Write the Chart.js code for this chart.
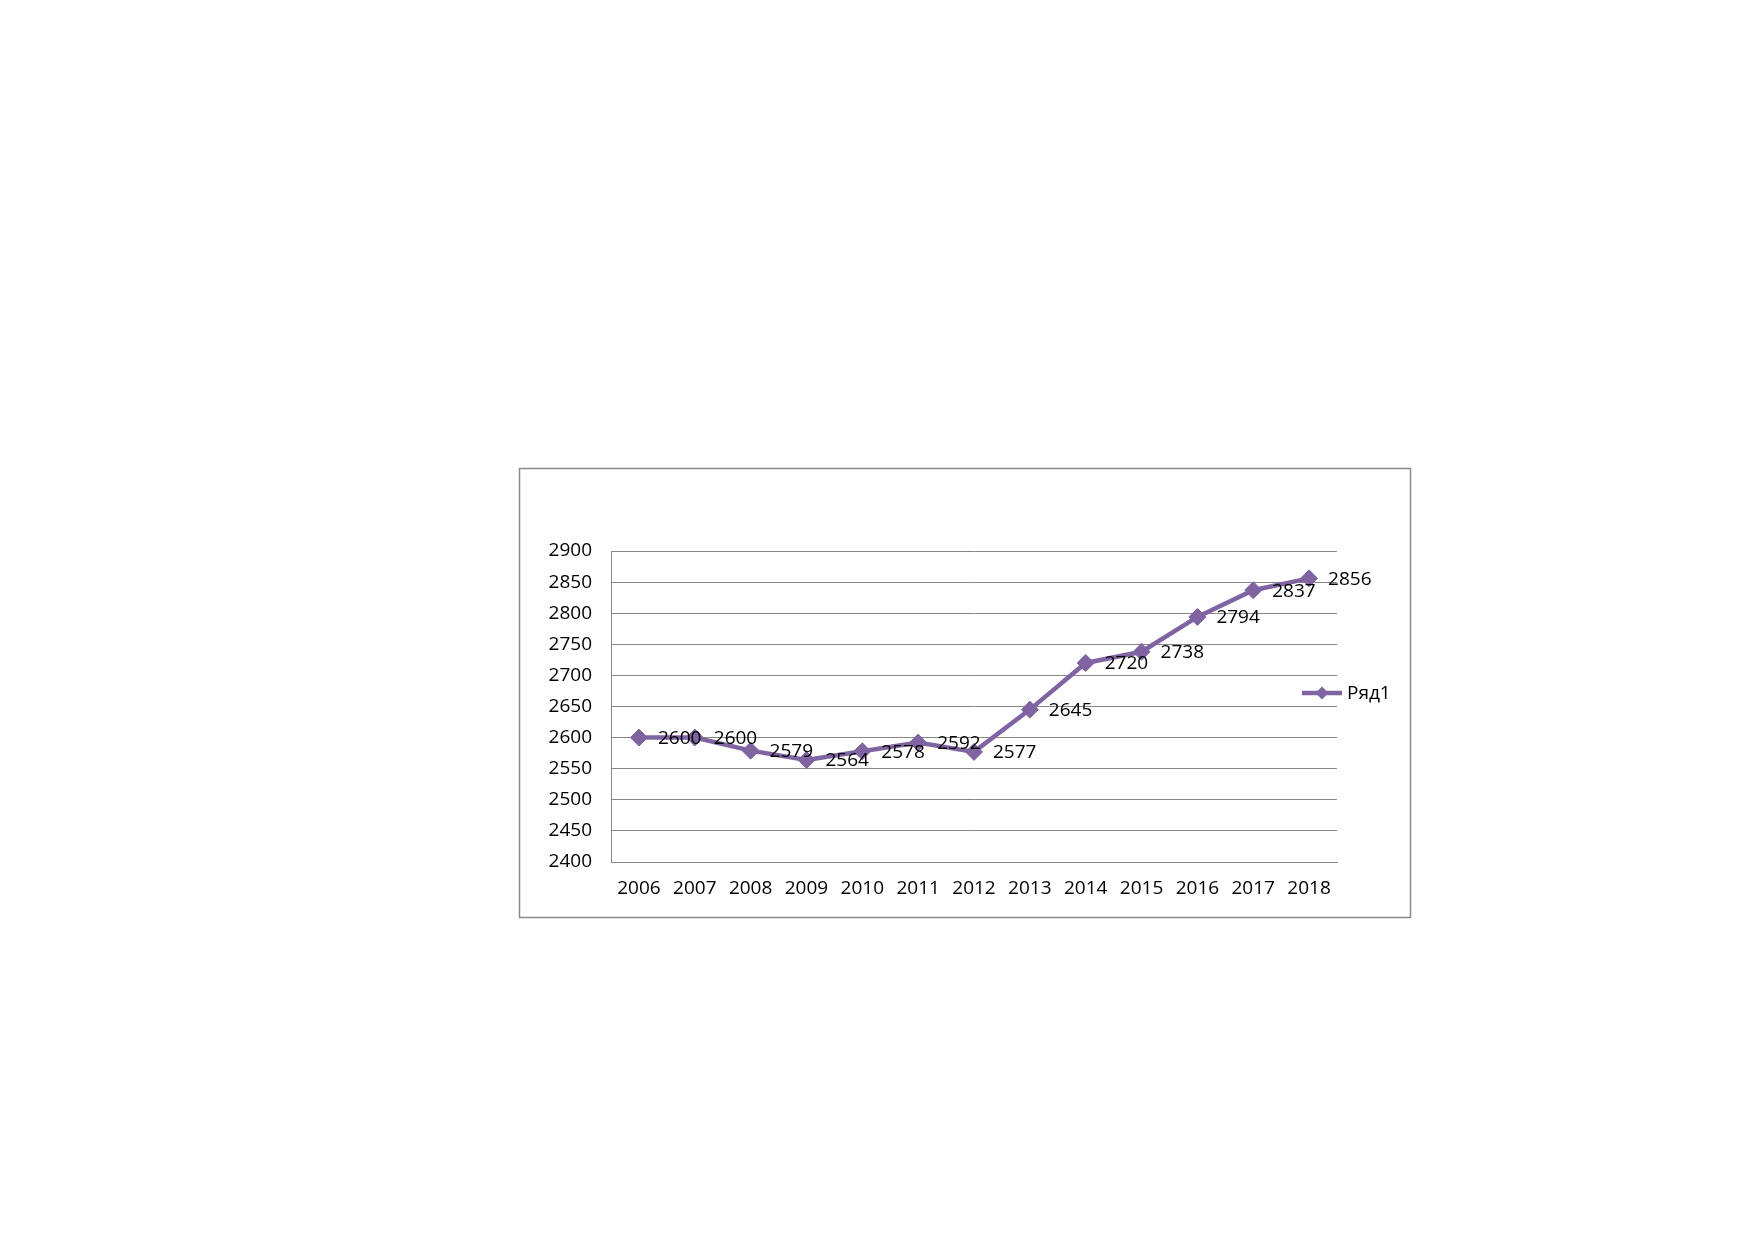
<!DOCTYPE html>
<html><head><meta charset="utf-8">
<script src="https://cdn.jsdelivr.net/npm/chart.js@4"></script>
<style>html,body{margin:0;padding:0;background:#fff}#wrap{position:relative;width:1752px;height:1239px}canvas{display:block}</style>
</head><body><div id="wrap"><canvas id="c" width="1752" height="1239"></canvas></div>
<script>
const categories = ['2006','2007','2008','2009','2010','2011','2012','2013','2014','2015','2016','2017','2018'];
const seriesName = 'Ряд1';
const values = [2600, 2600, 2579, 2564, 2578, 2592, 2577, 2645, 2720, 2738, 2794, 2837, 2856];
const yMin = 2400, yMax = 2900, yStep = 50;

const FONT = '"Open Sans", sans-serif';
const FSIZE = 19;
const LINE = '#8064A2';
const GRID = '#878787';

const framePlugin = {
  id: 'frame',
  beforeDraw(chart) {
    const ctx = chart.ctx;
    ctx.save();
    ctx.fillStyle = '#fff';
    ctx.fillRect(0, 0, chart.width, chart.height);
    ctx.strokeStyle = '#8a8a8a';
    ctx.lineWidth = 1.5;
    ctx.strokeRect(519.5, 468.5, 891, 449);
    ctx.restore();
  }
};

const labelsPlugin = {
  id: 'dataLabels',
  afterDatasetsDraw(chart) {
    const ctx = chart.ctx;
    const meta = chart.getDatasetMeta(0);
    const data = chart.data.datasets[0].data;
    ctx.save();
    ctx.font = FSIZE + 'px ' + FONT;
    ctx.fillStyle = '#000';
    ctx.textAlign = 'left';
    ctx.textBaseline = 'middle';
    meta.data.forEach((pt, i) => {
      ctx.fillText(String(data[i]), pt.x + 19, pt.y + 1);
    });
    ctx.restore();
  }
};

const legendPlugin = {
  id: 'customLegend',
  afterDraw(chart) {
    const ctx = chart.ctx;
    const ds = chart.data.datasets[0];
    const y = 693;
    ctx.save();
    ctx.strokeStyle = ds.borderColor;
    ctx.lineWidth = 4.5;
    ctx.beginPath();
    ctx.moveTo(1302, y);
    ctx.lineTo(1342, y);
    ctx.stroke();
    ctx.fillStyle = ds.pointBackgroundColor;
    const r = 6.5;
    ctx.beginPath();
    ctx.moveTo(1322 - r, y);
    ctx.lineTo(1322, y - r);
    ctx.lineTo(1322 + r, y);
    ctx.lineTo(1322, y + r);
    ctx.closePath();
    ctx.fill();
    ctx.font = FSIZE + 'px ' + FONT;
    ctx.fillStyle = '#000';
    ctx.textAlign = 'left';
    ctx.textBaseline = 'middle';
    ctx.fillText(ds.label, 1347, y + 1);
    ctx.restore();
  }
};

new Chart(document.getElementById('c'), {
  type: 'line',
  data: {
    labels: categories,
    datasets: [{
      label: seriesName,
      data: values,
      borderColor: LINE,
      backgroundColor: LINE,
      borderWidth: 4.5,
      pointStyle: 'rectRot',
      pointRadius: 8.5,
      pointBorderWidth: 1,
      pointBackgroundColor: LINE,
      pointBorderColor: LINE,
      tension: 0,
      fill: false
    }]
  },
  options: {
    responsive: false,
    animation: false,
    devicePixelRatio: 1,
    layout: { padding: { left: 0, top: 551, right: 415, bottom: 337 } },
    plugins: { legend: { display: false }, tooltip: { enabled: false } },
    scales: {
      x: {
        offset: true,
        grid: { display: false, drawTicks: false, offset: true },
        border: { display: true, color: GRID, width: 1 },
        ticks: { color: '#000', font: { family: FONT, size: FSIZE }, padding: 15, maxRotation: 0, autoSkip: false },
        afterFit(s) { s.height = 40; }
      },
      y: {
        min: yMin, max: yMax,
        grid: { color: GRID, lineWidth: 1, drawTicks: false },
        border: { display: true, color: GRID, width: 1 },
        ticks: { stepSize: yStep, color: '#000', font: { family: FONT, size: FSIZE }, padding: 19,
                 callback: (v) => String(v) },
        afterFit(s) { s.width = 611; }
      }
    }
  },
  plugins: [framePlugin, labelsPlugin, legendPlugin]
});
</script>
</body></html>
